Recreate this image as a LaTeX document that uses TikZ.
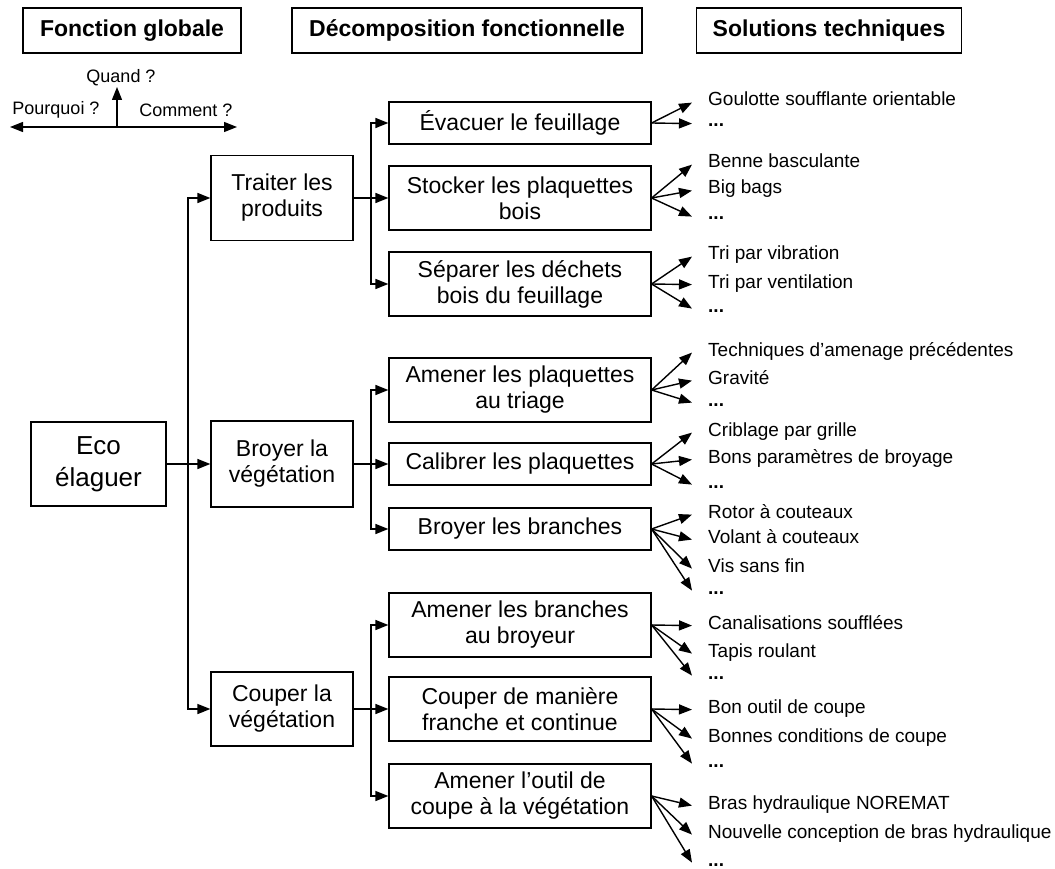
\documentclass[tikz,border=0pt]{standalone}
\usepackage{fontspec}
\setmainfont{Liberation Sans}
\usetikzlibrary{arrows.meta,calc}
\begin{document}
\begin{tikzpicture}[x=1pt,y=-1pt,
  box/.style={draw, line width=1.2pt, align=center, inner sep=0pt, font=\fontsize{23}{26}\selectfont},
  hdr/.style={draw, line width=1.6pt, align=center, inner sep=0pt, minimum height=45pt, font=\fontsize{23}{26}\selectfont\bfseries},
  lvl/.style={box, minimum width=142pt},
  sub/.style={box, minimum width=262pt},
  sol/.style={anchor=base west, inner sep=0pt, text height=0.68em, text depth=0pt, font=\fontsize{19}{22}\selectfont},
  dots/.style={sol, font=\fontsize{19}{22}\selectfont\bfseries},
  leg/.style={inner sep=0pt, font=\fontsize{18}{21}\selectfont},
  arr/.style={-{Triangle[length=13pt,width=10pt]}, line width=1.4pt},
  darr/.style={{Triangle[length=13pt,width=10pt]}-{Triangle[length=13pt,width=10pt]}, line width=1.4pt}
]
\useasboundingbox[fill=white] (0,0) rectangle (1055,869);

% headers
\node[hdr, minimum width=218pt] (h1) at (132,30.5) {Fonction globale};
\node[hdr, minimum width=350pt] (h2) at (467,30.5) {Décomposition fonctionnelle};
\node[hdr, minimum width=265pt] (h3) at (829,30.5) {Solutions techniques};

% legend
\node[leg] (quand) at (121,78) {Quand ?};
\node[leg] (pourquoi) at (56,110) {Pourquoi ?};
\node[leg] (comment) at (186,110) {Comment ?};
\coordinate (lc) at (117,127);
\coordinate (lt) at (117,87);
\coordinate (ll) at (10,127);
\coordinate (lr) at (237,127);
\draw[darr] (ll) -- (lr);
\draw[arr] (lc) -- (lt);

% level 0
\node[box, minimum width=135pt, minimum height=84pt, font=\fontsize{26}{32}\selectfont] (eco) at (98.5,464) {Eco\\élaguer};

% level 1
\node[lvl, minimum height=85pt] (traiter) at (282,198) {Traiter les\\produits};
\node[lvl, minimum height=86pt] (broyer) at (282,464) {Broyer la\\végétation};
\node[lvl, minimum height=74pt] (couper) at (282,709) {Couper la\\végétation};

% level 2
\node[sub, minimum height=42pt] (evac) at (520,123) {Évacuer le feuillage};
\node[sub, minimum height=64pt] (stock) at (520,198) {Stocker les plaquettes\\bois};
\node[sub, minimum height=64pt] (separ) at (520,284) {Séparer les déchets\\bois du feuillage};
\node[sub, minimum height=64pt] (amenpl) at (520,390) {Amener les plaquettes\\au triage};
\node[sub, minimum height=42pt] (calib) at (520,464) {Calibrer les plaquettes};
\node[sub, minimum height=42pt] (broybr) at (520,529) {Broyer les branches};
\node[sub, minimum height=64pt] (amenbr) at (520,625) {Amener les branches\\au broyeur};
\node[sub, minimum height=64pt] (coupm) at (520,709) {Couper de manière\\franche et continue};
\node[sub, minimum height=64pt] (amenou) at (520,796) {Amener l’outil de\\coupe à la végétation};

% junctions
\coordinate (j0) at (188,464);
\coordinate (j1) at (371,198);
\coordinate (j2) at (371,464);
\coordinate (j3) at (371,709);

\draw[arr] (eco.east) -- (broyer.west);
\draw[arr] (j0) |- (traiter.west);
\draw[arr] (j0) |- (couper.west);

\draw[arr] (traiter.east) -- (stock.west);
\draw[arr] (j1) |- (evac.west);
\draw[arr] (j1) |- (separ.west);

\draw[arr] (broyer.east) -- (calib.west);
\draw[arr] (j2) |- (amenpl.west);
\draw[arr] (j2) |- (broybr.west);

\draw[arr] (couper.east) -- (coupm.west);
\draw[arr] (j3) |- (amenbr.west);
\draw[arr] (j3) |- (amenou.west);

% solutions
\node[sol] (s1a) at (708,106) {Goulotte soufflante orientable};
\node[dots] (s1b) at (708,127) {...};
\node[sol] (s2a) at (708,168) {Benne basculante};
\node[sol] (s2b) at (708,194) {Big bags};
\node[dots] (s2c) at (708,220) {...};
\node[sol] (s3a) at (708,260) {Tri par vibration};
\node[sol] (s3b) at (708,288) {Tri par ventilation};
\node[dots] (s3c) at (708,312) {...};
\node[sol] (s4a) at (708,356) {Techniques d’amenage précédentes};
\node[sol] (s4b) at (708,384) {Gravité};
\node[dots] (s4c) at (708,406) {...};
\node[sol] (s5a) at (708,436) {Criblage par grille};
\node[sol] (s5b) at (708,463) {Bons paramètres de broyage};
\node[dots] (s5c) at (708,488) {...};
\node[sol] (s6a) at (708,518) {Rotor à couteaux};
\node[sol] (s6b) at (708,543) {Volant à couteaux};
\node[sol] (s6c) at (708,572) {Vis sans fin};
\node[dots] (s6d) at (708,594) {...};
\node[sol] (s7a) at (708,629) {Canalisations soufflées};
\node[sol] (s7b) at (708,657) {Tapis roulant};
\node[dots] (s7c) at (708,679) {...};
\node[sol] (s8a) at (708,713) {Bon outil de coupe};
\node[sol] (s8b) at (708,742) {Bonnes conditions de coupe};
\node[dots] (s8c) at (708,767) {...};
\node[sol] (s9a) at (708,809) {Bras hydraulique NOREMAT};
\node[sol] (s9b) at (708,838) {Nouvelle conception de bras hydraulique};
\node[dots] (s9c) at (708,866) {...};

\foreach \b/\t in {evac/s1a,evac/s1b,
  stock/s2a,stock/s2b,stock/s2c,
  separ/s3a,separ/s3b,separ/s3c,
  amenpl/s4a,amenpl/s4b,amenpl/s4c,
  calib/s5a,calib/s5b,calib/s5c,
  broybr/s6a,broybr/s6b,broybr/s6c,broybr/s6d,
  amenbr/s7a,amenbr/s7b,amenbr/s7c,
  coupm/s8a,coupm/s8b,coupm/s8c,
  amenou/s9a,amenou/s9b,amenou/s9c}
  \draw[arr] (\b.east) -- ($(\t.west)+(-16,0)$);
\end{tikzpicture}
\end{document}
